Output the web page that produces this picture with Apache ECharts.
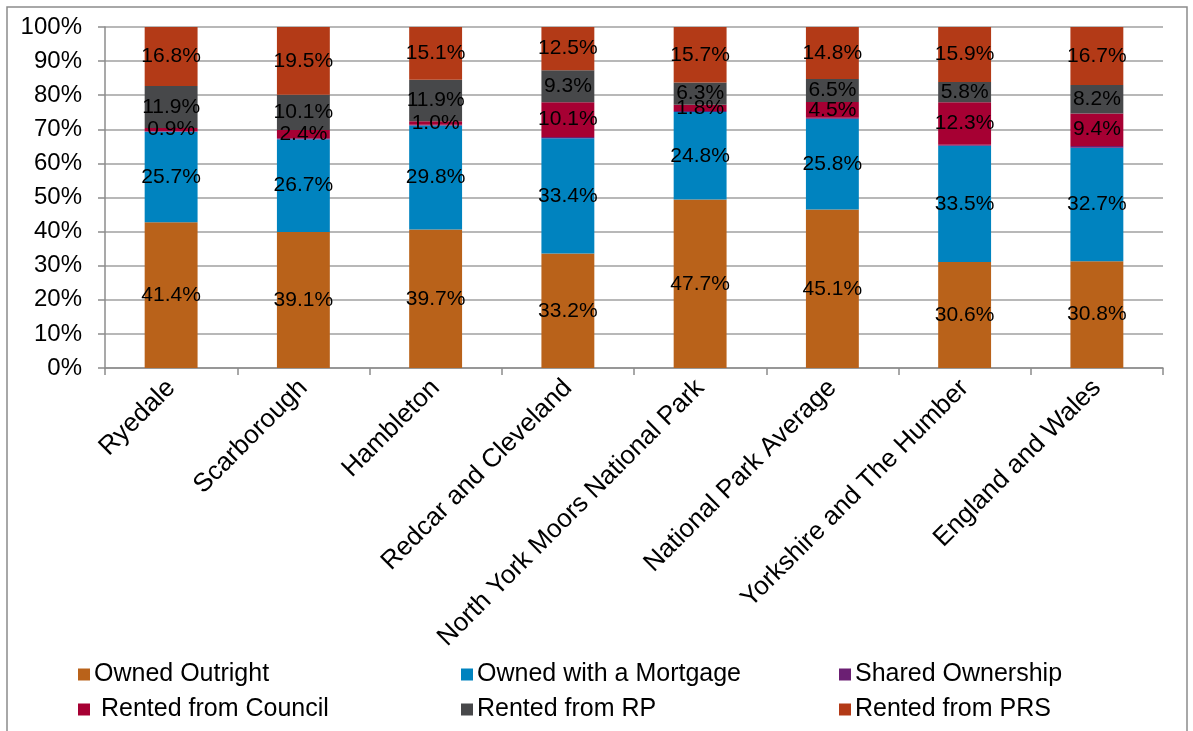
<!DOCTYPE html>
<html>
<head>
<meta charset="utf-8">
<title>Housing tenure</title>
<script src="https://cdn.jsdelivr.net/npm/echarts@6/dist/echarts.min.js"></script>
<style>
  html, body { margin: 0; padding: 0; background: #ffffff; }
  #chart { width: 1193px; height: 731px; }
</style>
</head>
<body>
<div id="chart"></div>
<script>
// Tenure shares (%) by area
const categories = ['Ryedale', 'Scarborough', 'Hambleton', 'Redcar and Cleveland',
  'North York Moors National Park', 'National Park Average',
  'Yorkshire and The Humber', 'England and Wales'];
const ownedOutright   = [41.4, 39.1, 39.7, 33.2, 47.7, 45.1, 30.6, 30.8];
const ownedMortgage   = [25.7, 26.7, 29.8, 33.4, 24.8, 25.8, 33.5, 32.7];
const sharedOwnership = [0.2, 0.3, 0.2, 0.3, 0.3, 0.3, 0.3, 0.5];
const rentedCouncil   = [0.9, 2.4, 1.0, 10.1, 1.8, 4.5, 12.3, 9.4];
const rentedRP        = [11.9, 10.1, 11.9, 9.3, 6.3, 6.5, 5.8, 8.2];
const rentedPRS       = [16.8, 19.5, 15.1, 12.5, 15.7, 14.8, 15.9, 16.7];
const yTicks = ['0%', '10%', '20%', '30%', '40%', '50%', '60%', '70%', '80%', '90%', '100%'];

const seriesDefs = [
  { name: 'Owned Outright', values: ownedOutright, color: '#B9621A', label: true },
  { name: 'Owned with a Mortgage', values: ownedMortgage, color: '#0083BF', label: true },
  { name: 'Shared Ownership', values: sharedOwnership, color: '#6B1F73', label: false },
  { name: ' Rented from Council', values: rentedCouncil, color: '#A60033', label: true },
  { name: 'Rented from RP', values: rentedRP, color: '#47484A', label: true },
  { name: 'Rented from PRS', values: rentedPRS, color: '#B33A17', label: true }
];

// Columns are stacked to 100%: each share is scaled by its area's total.
const totals = categories.map((_, i) =>
  seriesDefs.reduce((s, d) => s + d.values[i], 0));

const FONT = '"Liberation Sans", Arial, sans-serif';

const series = seriesDefs.map(d => ({
  name: d.name,
  type: 'bar',
  stack: 'tenure',
  barCategoryGap: '60%',
  itemStyle: { color: d.color },
  label: {
    show: d.label,
    position: 'inside',
    color: '#000',
    fontFamily: FONT,
    fontSize: 21,
    formatter: p => d.values[p.dataIndex].toFixed(1) + '%'
  },
  data: d.values.map((v, i) => v / totals[i] * 100)
}));

// Legend laid out as a 3 x 2 block
const legendCols = [78, 461, 839];
const legendRows = [662, 697];
const legends = seriesDefs.map((d, k) => ({
  data: [d.name],
  left: legendCols[k % 3],
  top: legendRows[Math.floor(k / 3)],
  padding: 0,
  icon: 'rect',
  itemWidth: 12,
  itemHeight: 12,
  itemGap: 5,
  selectedMode: false,
  textStyle: { color: '#000', fontFamily: FONT, fontSize: 25, padding: [0, 0, 0, -1] }
}));

const chart = echarts.init(document.getElementById('chart'), null, { renderer: 'canvas' });
chart.setOption({
  animation: false,
  backgroundColor: '#ffffff',
  graphic: [{
    type: 'rect',
    shape: { x: 7, y: 7, width: 1180, height: 740 },
    style: { fill: 'none', stroke: '#8c8c8c', lineWidth: 1.5 },
    silent: true
  }],
  legend: legends,
  grid: { left: 105, right: 30, top: 27, bottom: 363, containLabel: false },
  xAxis: {
    type: 'category',
    data: categories,
    axisLine: { lineStyle: { color: '#8c8c8c', width: 1.5 } },
    axisTick: { show: true, length: 7, alignWithLabel: false, lineStyle: { color: '#8c8c8c', width: 1.5 } },
    axisLabel: {
      rotate: 45,
      interval: 0,
      margin: 16,
      color: '#000',
      fontFamily: FONT,
      fontSize: 26
    }
  },
  yAxis: {
    type: 'value',
    min: 0,
    max: 100,
    interval: 10,
    axisLine: { show: true, lineStyle: { color: '#8c8c8c', width: 1.5 } },
    axisTick: { show: true, length: 7, lineStyle: { color: '#8c8c8c', width: 1.5 } },
    splitLine: { show: true, lineStyle: { color: '#a0a0a0', width: 1.5 } },
    axisLabel: {
      margin: 23,
      color: '#000',
      fontFamily: FONT,
      fontSize: 24,
      formatter: v => yTicks[Math.round(v / 10)]
    }
  },
  series: series
});
</script>
</body>
</html>
